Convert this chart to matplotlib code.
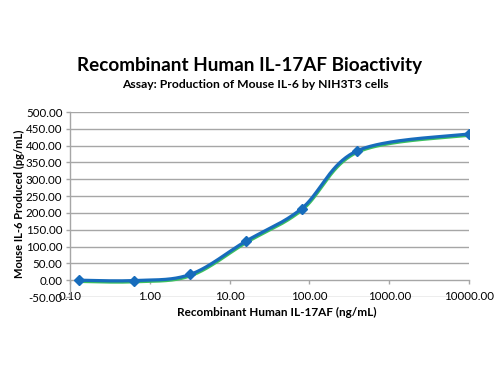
import numpy as np
import matplotlib
matplotlib.use("Agg")
import matplotlib.pyplot as plt
from matplotlib.transforms import offset_copy

plt.rcParams['font.family'] = ['Lato', 'DejaVu Sans']

# Data
concentration = [0.128, 0.64, 3.2, 16, 80, 400, 10000]   # ng/mL
il6 = [0.0, -1.0, 17.0, 116.0, 213.0, 385.0, 435.0]         # pg/mL
y_ticks = [-50, 0, 50, 100, 150, 200, 250, 300, 350, 400, 450, 500]
x_ticks = [0.1, 1, 10, 100, 1000, 10000]

title = "Recombinant Human IL-17AF Bioactivity"
subtitle = "Assay: Production of Mouse IL-6 by NIH3T3 cells"
xlabel = "Recombinant Human IL-17AF (ng/mL)"
ylabel = "Mouse IL-6 Produced (pg/mL)"


def excel_smooth(xs, ys, n=60):
    # Catmull-Rom style bezier smoothing computed in screen-like space
    u = np.log10(np.asarray(xs, float)) * 80.0
    v = np.asarray(ys, float) * 16.8 / 50.0
    P = np.column_stack([u, v])
    m = len(P)
    out = []
    for i in range(m - 1):
        p0 = P[i - 1] if i > 0 else P[i]
        p1 = P[i]
        p2 = P[i + 1]
        p3 = P[i + 2] if i + 2 < m else P[i + 1]
        c1 = p1 + (p2 - p0) / 6.0
        c2 = p2 - (p3 - p1) / 6.0
        t = np.linspace(0, 1, n)[:, None]
        seg = ((1 - t) ** 3) * p1 + 3 * ((1 - t) ** 2) * t * c1 + 3 * (1 - t) * t ** 2 * c2 + t ** 3 * p2
        out.append(seg if i == 0 else seg[1:])
    S = np.vstack(out)
    return 10 ** (S[:, 0] / 80.0), S[:, 1] * 50.0 / 16.8


fig = plt.figure(figsize=(5, 3.75), dpi=100)
ax = fig.add_axes([0.14, 0.208, 0.798, 0.4933])

ax.set_xscale('log')
ax.set_xlim(0.1, 10000)
ax.set_ylim(-50, 500)

grid_c = '#a6a6a6'
for yv in y_ticks:
    if yv != 0:
        ax.axhline(yv, color=grid_c, lw=1.0, zorder=1)

for s in ['top', 'right']:
    ax.spines[s].set_visible(False)
ax.spines['left'].set_color(grid_c)
ax.spines['bottom'].set_color(grid_c)
ax.spines['bottom'].set_position(('data', 0))
ax.spines['left'].set_linewidth(1.0)
ax.spines['bottom'].set_linewidth(1.0)

ax.set_yticks(y_ticks)
ax.set_yticklabels([f"{v:.2f}" for v in y_ticks])
ax.set_xticks(x_ticks)
ax.set_xticklabels([f"{v:.2f}" for v in x_ticks])
ax.xaxis.set_minor_locator(matplotlib.ticker.NullLocator())
ax.tick_params(axis='both', colors=grid_c, labelcolor='black', labelsize=8.3, length=3, width=1)
ax.tick_params(axis='x', pad=5)
ax.tick_params(axis='y', pad=2.5)

sx, sy = excel_smooth(concentration, il6)
shadow_tr = offset_copy(ax.transData, fig=fig, x=0.6, y=-1.3, units='dots')
ax.plot(sx, sy, color='#3cc060', lw=2.2, transform=shadow_tr, zorder=3, solid_capstyle='round')
ax.plot(sx, sy, color='#176cbc', lw=2.3, zorder=4, solid_capstyle='round')
ax.plot(concentration, il6, linestyle='none', marker='D', markersize=5.5,
        color='#176cbc', zorder=5)

fig.text(0.5, 1 - 65 / 375, title, ha='center', va='center', fontsize=13.6, fontweight='bold')
fig.text(0.51, 1 - 84 / 375, subtitle, ha='center', va='center', fontsize=8.7, fontweight='bold')
fig.text(277 / 500, 1 - 312 / 375, xlabel, ha='center', va='center', fontsize=8.5, fontweight='bold')
fig.text(19 / 500, 1 - 204 / 375, ylabel, ha='center', va='center', rotation=90, fontsize=8.0, fontweight='bold')

fig.savefig('out.png', dpi=100)
